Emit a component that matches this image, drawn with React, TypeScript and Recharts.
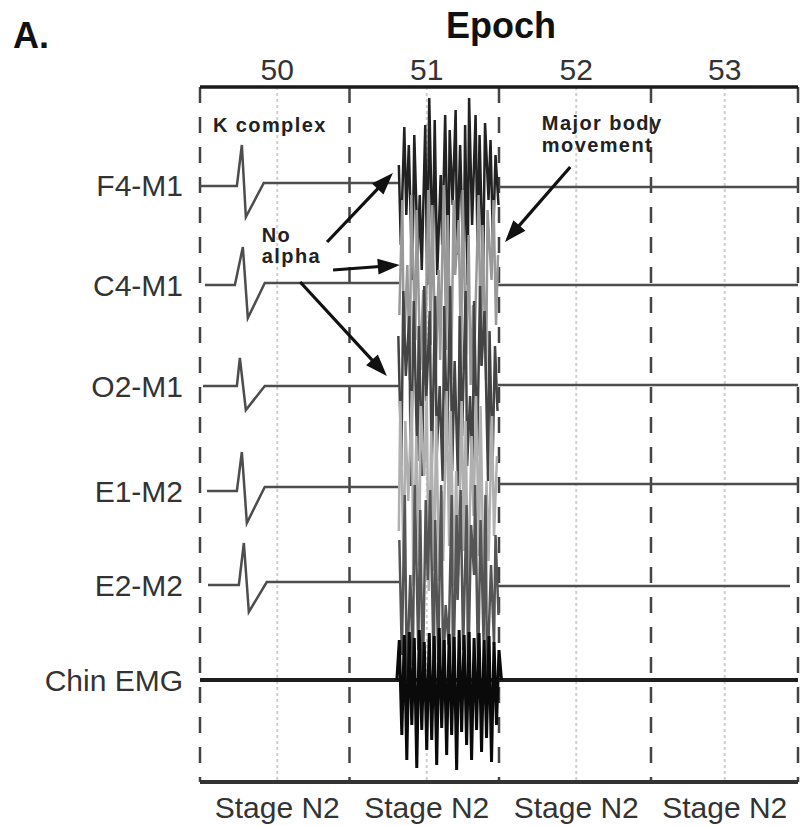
import React from 'react';
import { LineChart, Line, XAxis, YAxis, ReferenceLine, ReferenceDot } from 'recharts';

// ---- axes / categories ----
const epochLabels = ['50', '51', '52', '53'];
const epochCenters = [15.5, 45.5, 75.5, 105.3];
const stageLabels = ['Stage N2', 'Stage N2', 'Stage N2', 'Stage N2'];
const epochBoundaries = [0, 30, 60, 90.5, 120];
const channelNames = ['F4-M1', 'C4-M1', 'O2-M1', 'E1-M2', 'E2-M2', 'Chin EMG'];
const channelBaselines = [597, 497, 396, 291, 197, 102];

// ---- traces (seconds in 4-epoch window, offset from channel baseline) ----
const f4PreT = [0, 7.4, 8.4, 9.2, 12.8, 40.0];
const f4PreV = [-1, -1, 40, -32, 2, 2];
const c4PreT = [1.0, 7.0, 8.6, 9.6, 13.0, 40.0];
const c4PreV = [0, 0, 38, -33, 2, 2];
const o2PreT = [0.6, 7.4, 8.0, 9.2, 13.0, 40.0];
const o2PreV = [0, 0, 28, -24, 0, 0];
const e1PreT = [1.4, 7.4, 8.4, 9.4, 13.0, 39.8];
const e1PreV = [0, 0, 39, -32, 4, 4];
const e2PreT = [1.6, 7.8, 8.8, 9.8, 13.4, 40.0];
const e2PreV = [0, 0, 42, -27, 3, 3];
const chinT = [0, 120];
const chinV = [0, 0];

const f4PostT = [59.8, 120];
const f4PostV = [-2, -2];
const c4PostT = [59.8, 120];
const c4PostV = [0, 0];
const o2PostT = [59.8, 120];
const o2PostV = [1, 1];
const e1PostT = [59.8, 120];
const e1PostV = [7, 7];
const e2PostT = [59.8, 118.4];
const e2PostV = [-1, -1];

// ---- movement artifact (irregular sample times per channel) ----
const f4ArtT = [39.9, 40.3, 41.0, 41.4, 41.9, 42.6, 43.0, 43.7, 44.1, 44.5, 45.2, 45.6, 46.0, 46.7, 47.1, 47.6, 48.3, 48.6, 49.2, 49.8,
  50.1, 50.7, 51.3, 51.6, 52.2, 52.9, 53.2, 53.7, 54.0, 54.6, 55.3, 55.7, 56.1, 56.8, 57.2, 57.9, 58.3, 58.8, 59.3, 59.9];
const f4Art = [20, -60, 58, -30, 40, -95, 50, -70, -10, -85, 60, -100, 87, -75, 65, -90, 10, -60, 70, -95,
  55, -20, 75, -70, 40, -90, 60, -100, 87, -40, 70, -65, 50, -90, 62, -15, 45, -60, 30, -20];
const c4ArtT = [40.0, 40.6, 40.9, 41.6, 42.1, 42.4, 43.2, 43.5, 44.2, 44.8, 45.1, 45.8, 46.3, 46.6, 47.3, 47.9, 48.2, 48.9, 49.4, 49.7,
  50.4, 50.9, 51.2, 51.9, 52.4, 52.7, 53.4, 53.9, 54.3, 54.8, 55.1, 55.9, 56.4, 56.7, 57.4, 57.7, 58.5, 58.9, 59.4, 59.8];
const c4Art = [-30, 85, -70, 20, -95, 90, -55, 75, -85, -5, -100, 95, -60, 80, -90, 15, -75, 100, -65, 70,
  -95, 85, 10, 65, -85, 95, -70, 50, -100, -20, -60, 90, -80, 60, -95, 75, 5, 85, -40, 30];
const o2ArtT = [39.8, 40.4, 40.8, 41.3, 42.0, 42.3, 42.9, 43.6, 43.9, 44.6, 45.0, 45.4, 46.1, 46.5, 47.2, 47.5, 48.1, 48.7, 49.0, 49.6,
  50.2, 50.6, 51.1, 51.8, 52.1, 52.6, 53.3, 53.6, 54.2, 54.7, 55.0, 55.6, 56.2, 56.5, 57.1, 57.8, 58.1, 58.7, 59.2, 59.7];
const o2Art = [50, -80, 95, 10, 70, -100, 85, -75, 60, -90, 100, -15, 75, -85, 90, -70, 0, -95, 80, -60,
  100, -85, 25, -100, 70, -50, 95, -80, -10, -90, 85, -70, 100, 20, 75, -95, 55, -80, 40, -25];
const e1ArtT = [39.9, 40.2, 40.9, 41.2, 41.8, 42.5, 42.8, 43.4, 44.0, 44.3, 45.0, 45.5, 45.9, 46.4, 47.0, 47.4, 48.0, 48.5, 48.8, 49.5,
  50.0, 50.3, 51.0, 51.4, 51.8, 52.5, 53.0, 53.3, 53.8, 54.5, 54.9, 55.4, 56.0, 56.3, 56.9, 57.5, 57.9, 58.6, 59.0, 59.6];
const e1Art = [-40, 90, -85, 70, -10, 100, -95, 55, -75, 85, 15, 95, -100, 60, -80, 75, -90, 0, -70, 100,
  -55, 80, -95, 20, -85, 90, -60, 70, -100, 55, -25, 95, -65, 85, -90, 10, -70, 75, -45, 35];
const e2ArtT = [40.0, 40.5, 41.1, 41.5, 42.2, 42.7, 43.1, 43.8, 44.2, 44.7, 45.3, 45.7, 46.2, 46.9, 47.2, 47.8, 48.4, 48.8, 49.3, 49.9,
  50.5, 50.8, 51.5, 51.7, 52.3, 52.8, 53.5, 53.8, 54.4, 55.0, 55.2, 55.8, 56.3, 56.9, 57.3, 57.6, 58.4, 59.0, 59.3, 59.9];
const e2Art = [45, -70, 90, -95, 10, -80, 100, -65, 75, -100, 85, 5, 95, -85, 65, -75, 100, -90, -20, -60,
  90, -100, 70, -15, 95, -65, 80, -95, 60, 10, 100, -85, 65, -55, 90, -100, 20, -60, 50, -30];
const chinArtT = [39.5, 40, 40.5, 41, 41.5, 42, 42.5, 43, 43.5, 44, 44.5, 45, 45.5, 46, 46.5, 47, 47.5, 48, 48.5, 49,
  49.5, 50, 50.5, 51, 51.5, 52, 52.5, 53, 53.5, 54, 54.5, 55, 55.5, 56, 56.5, 57, 57.5, 58, 58.5, 59, 59.5, 60, 60.5];
const chinArt = [0, 40, -55, 45, -80, 48, -45, 42, -88, 50, -50, 38, -70, 47, -60, 44, -85, 52, -48, 40,
  -75, 46, -55, 43, -90, 50, -52, 45, -65, 48, -80, 42, -50, 47, -72, 40, -58, 44, -82, 38, -45, 30, 0];

// ---- annotations (data coords) ----
const arrowFromT = [25.5, 26.7, 20.1, 74.3];
const arrowFromV = [540, 512, 500, 615];
const arrowToT = [38.7, 40.1, 37.5, 61.2];
const arrowToV = [609, 517, 406, 540];
const noteText = ['K complex', 'No', 'alpha', 'Major body', 'movement'];
const noteT = [2.6, 12.4, 12.4, 68.6, 68.6];
const noteV = [650, 540, 519, 652, 630];

const FONT = '"Liberation Sans", Arial, Helvetica, sans-serif';

const mk = (ts: number[], vs: number[], base: number) => ts.map((t, i) => ({ t, v: base + vs[i] }));
const joinGap = (a: any[], b: any[]) => [...a, { t: 50, v: null }, ...b];

const traces = [
  joinGap(mk(f4PreT, f4PreV, channelBaselines[0]), mk(f4PostT, f4PostV, channelBaselines[0])),
  joinGap(mk(c4PreT, c4PreV, channelBaselines[1]), mk(c4PostT, c4PostV, channelBaselines[1])),
  joinGap(mk(o2PreT, o2PreV, channelBaselines[2]), mk(o2PostT, o2PostV, channelBaselines[2])),
  joinGap(mk(e1PreT, e1PreV, channelBaselines[3]), mk(e1PostT, e1PostV, channelBaselines[3])),
  joinGap(mk(e2PreT, e2PreV, channelBaselines[4]), mk(e2PostT, e2PostV, channelBaselines[4])),
];
const chinTrace = mk(chinT, chinV, channelBaselines[5]);
const artifacts = [
  mk(f4ArtT, f4Art, channelBaselines[0]),
  mk(c4ArtT, c4Art, channelBaselines[1]),
  mk(o2ArtT, o2Art, channelBaselines[2]),
  mk(e1ArtT, e1Art, channelBaselines[3]),
  mk(e2ArtT, e2Art, channelBaselines[4]),
];
const artColors = ['#222', '#999', '#444', '#b0b0b0', '#555'];
const chinArtifact = mk(chinArtT, chinArt, channelBaselines[5]);

const ArrowShape = (props: any) => {
  const { x1, y1, x2, y2 } = props;
  const dx = x2 - x1;
  const dy = y2 - y1;
  const len = Math.hypot(dx, dy) || 1;
  const ux = dx / len;
  const uy = dy / len;
  const hl = 22;
  const hw = 8;
  const bx = x2 - ux * hl;
  const by = y2 - uy * hl;
  const pts = `${x2},${y2} ${bx - uy * hw},${by + ux * hw} ${bx + uy * hw},${by - ux * hw}`;
  return (
    <g>
      <line x1={x1} y1={y1} x2={bx + ux * 2} y2={by + uy * 2} stroke="#111" strokeWidth={3.2} />
      <polygon points={pts} fill="#111" />
    </g>
  );
};

const noteShape = (label: string) => (p: any) => (
  <text x={p.cx} y={p.cy} fontSize={20} fontWeight="bold" fontFamily={FONT} fill="#222" letterSpacing={1.4}>
    {label}
  </text>
);

const tickStyle = { fill: '#333', fontSize: 30, fontFamily: FONT };

export default function App() {
  return (
    <div style={{ position: 'absolute', left: 0, top: 0, width: 800, height: 826, background: '#fff', overflow: 'hidden' }}>
      <LineChart width={800} height={826} margin={{ top: 0, right: 2, bottom: 0, left: 0 }}>
        <XAxis
          orientation="top"
          type="number"
          dataKey="t"
          domain={[0, 120]}
          allowDataOverflow
          ticks={epochCenters}
          interval={0}
          tickFormatter={(v: number, i: number) => epochLabels[i]}
          height={87}
          tickSize={0}
          tickMargin={7}
          axisLine={{ stroke: '#1a1a1a', strokeWidth: 3.5 }}
          tick={tickStyle}
        />
        <XAxis
          xAxisId="bottom"
          orientation="bottom"
          type="number"
          dataKey="t"
          domain={[0, 120]}
          allowDataOverflow
          ticks={epochCenters}
          interval={0}
          tickFormatter={(v: number, i: number) => stageLabels[i]}
          height={44}
          tickSize={0}
          tickMargin={15}
          axisLine={{ stroke: '#333', strokeWidth: 4 }}
          tick={tickStyle}
        />
        <YAxis
          type="number"
          domain={[0, 695]}
          allowDataOverflow
          ticks={channelBaselines}
          interval={0}
          tickFormatter={(v: number) => channelNames[channelBaselines.indexOf(v)]}
          width={200}
          tickSize={0}
          tickMargin={17}
          axisLine={false}
          tickLine={false}
          tick={tickStyle}
        />
        {epochCenters.map((t, i) => (
          <ReferenceLine key={'c' + i} x={t} stroke="#cfcfcf" strokeWidth={2} strokeDasharray="3 3" />
        ))}
        {epochBoundaries.map((t, i) => (
          <ReferenceLine key={'b' + i} x={t} stroke="#444" strokeWidth={2.5} strokeDasharray="16 14" />
        ))}
        {traces.map((d, i) => (
          <Line key={'tr' + i} data={d} dataKey="v" type="linear" stroke="#4d4d4d" strokeWidth={2.5}
            dot={false} isAnimationActive={false} connectNulls={false} />
        ))}
        <Line data={chinTrace} dataKey="v" type="linear" stroke="#1e1e1e" strokeWidth={4} dot={false} isAnimationActive={false} />
        {artifacts.map((d, i) => (
          <Line key={'ar' + i} data={d} dataKey="v" type="linear" stroke={artColors[i]} strokeWidth={2.5}
            dot={false} isAnimationActive={false} />
        ))}
        <Line data={chinArtifact} dataKey="v" type="linear" stroke="#0a0a0a" strokeWidth={3} dot={false} isAnimationActive={false} />
        {arrowFromT.map((t, i) => (
          <ReferenceLine key={'a' + i}
            segment={[{ x: t, y: arrowFromV[i] }, { x: arrowToT[i], y: arrowToV[i] }]}
            shape={ArrowShape} />
        ))}
        {noteText.map((s, i) => (
          <ReferenceDot key={'n' + i} x={noteT[i]} y={noteV[i]} r={1} shape={noteShape(s)} />
        ))}
      </LineChart>
      <svg width={800} height={826} style={{ position: 'absolute', left: 0, top: 0, pointerEvents: 'none' }}>
        <text x={13} y={48} fontSize={36} fontWeight="bold" fontFamily={FONT} fill="#111">A.</text>
        <text x={501} y={38} fontSize={36} fontWeight="bold" fontFamily={FONT} fill="#111" textAnchor="middle">Epoch</text>
      </svg>
    </div>
  );
}
